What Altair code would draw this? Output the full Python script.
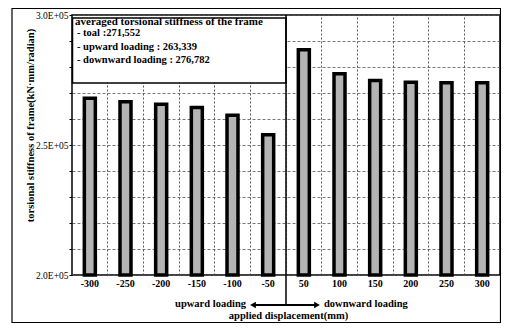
import altair as alt
import pandas as pd

# ---- data ----
displacements = ['-300', '-250', '-200', '-150', '-100', '-50',
                 '50', '100', '150', '200', '250', '300']
stiffness = [268000, 266600, 265700, 264400, 261400, 253900,
             286600, 277400, 274800, 274100, 273900, 273900]
y_ticks = [200000 + 10000 * i for i in range(11)]
box_title = 'averaged torsional stiffness of the frame'
box_lines = ['- toal :271,552', '- upward loading : 263,339', '- downward loading : 276,782']
left_label = 'upward loading'
right_label = 'downward loading'

W, H = 428, 260
SERIF = 'Liberation Serif'

df = pd.DataFrame({'disp': displacements, 'value': stiffness})
one = pd.DataFrame({'k': [0]})

xscale = alt.Scale(paddingInner=0, paddingOuter=0)
yscale = alt.Scale(domain=[200000, 300000], nice=False, zero=False)

bars = alt.Chart(df).mark_bar(
    size=11, fill='#b4b4b4', stroke='black', strokeWidth=3.5
).encode(
    x=alt.X('disp:N', sort=displacements, scale=xscale,
            axis=alt.Axis(title='applied displacement(mm)', labelAngle=0, ticks=False,
                          domain=False, grid=False, labelPadding=3,
                          labelFont=SERIF, labelFontWeight='bold', labelFontSize=10,
                          labelColor='black', orient='bottom',
                          titleFont=SERIF, titleFontWeight='bold', titleFontSize=10.5,
                          titleColor='black', titleX=W / 2 + 2, titleY=40,
                          titleBaseline='middle')),
    y=alt.Y('value:Q', scale=yscale,
            axis=alt.Axis(values=y_ticks, grid=True, gridDash=[3, 2], gridColor='#555555',
                          gridWidth=0.8, tickSize=3, tickColor='black', domain=False,
                          labelExpr="datum.value % 50000 == 0 ? format(datum.value/100000, '.1f') + 'E+05' : ''",
                          labelFont=SERIF, labelFontSize=9.5, labelColor='black', labelPadding=1,
                          title='torsional stiffness of frame(kN·mm/radian)',
                          titleFont=SERIF, titleFontWeight='bold', titleFontSize=10.5,
                          titleColor='black', titleX=-42, titleY=110, titleAngle=-90,
                          titleBaseline='middle', titleAlign='center')),
    y2=alt.datum(200000),
)

vgrid = alt.Chart(df).mark_tick(opacity=0).encode(
    x=alt.X('disp:N', sort=displacements, scale=xscale,
            axis=alt.Axis(orient='bottom', grid=True, bandPosition=0, labels=False,
                          ticks=False, domain=False, title=None,
                          gridDash=[2, 2], gridColor='#444444', gridWidth=0.9)),
)

box = alt.Chart(one).mark_rect(fill='white', stroke='black', strokeWidth=1.5).encode(
    x=alt.value(0.5), x2=alt.value(W / 2), y=alt.value(3), y2=alt.value(68)
)
box_head = alt.Chart(one).mark_text(
    text=box_title, align='left', baseline='middle', font=SERIF, fontWeight='bold',
    fontSize=11, color='black'
).encode(x=alt.value(3), y=alt.value(7))
box_body = alt.Chart(one).mark_text(
    text=box_lines, align='left', baseline='middle', font=SERIF, fontWeight='bold',
    fontSize=10.5, color='black', lineHeight=13.5
).encode(x=alt.value(5), y=alt.value(18))

center_line = alt.Chart(one).mark_rule(color='black', strokeWidth=1.5).encode(
    x=alt.value(W / 2), y=alt.value(0), y2=alt.value(H + 30)
)
arrow_line = alt.Chart(one).mark_rule(color='black', strokeWidth=2).encode(
    x=alt.value(W / 2 - 32), x2=alt.value(W / 2 + 30), y=alt.value(H + 30)
)
arrow_l = alt.Chart(one).mark_point(shape='triangle-left', filled=True, color='black',
                                    size=45, opacity=1).encode(
    x=alt.value(W / 2 - 33), y=alt.value(H + 30))
arrow_r = alt.Chart(one).mark_point(shape='triangle-right', filled=True, color='black',
                                    size=45, opacity=1).encode(
    x=alt.value(W / 2 + 31), y=alt.value(H + 30))
lab_l = alt.Chart(one).mark_text(
    text=left_label, align='right', baseline='middle', font=SERIF, fontWeight='bold',
    fontSize=10.5, color='black'
).encode(x=alt.value(W / 2 - 40), y=alt.value(H + 29))
lab_r = alt.Chart(one).mark_text(
    text=right_label, align='left', baseline='middle', font=SERIF, fontWeight='bold',
    fontSize=10.5, color='black'
).encode(x=alt.value(W / 2 + 38), y=alt.value(H + 29))

outer = alt.Chart(one).mark_rect(fill='transparent', stroke='black', strokeWidth=1.2).encode(
    x=alt.value(-60), x2=alt.value(W + 0.5), y=alt.value(-6.5), y2=alt.value(H + 47.5)
)

chart = alt.layer(
    vgrid, bars, box, box_head, box_body, center_line, arrow_line, arrow_l, arrow_r,
    lab_l, lab_r, outer
).resolve_axis(x='independent').properties(
    width=W, height=H,
    autosize=alt.AutoSizeParams(type='none'),
    padding={'left': 64, 'top': 7, 'right': 1, 'bottom': 48},
    background='white'
).configure_view(stroke='black', strokeWidth=1.5)

chart.save('out.html', embed_options={'renderer': 'svg', 'actions': False})
